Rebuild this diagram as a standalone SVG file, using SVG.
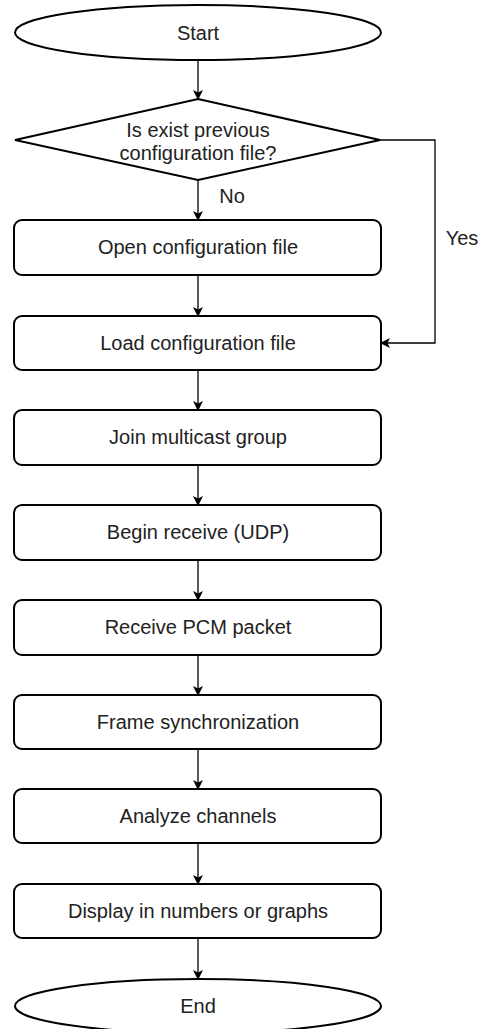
<svg xmlns="http://www.w3.org/2000/svg" width="486" height="1029" viewBox="0 0 486 1029">
<style>
.shape{fill:#fff;stroke:#000;stroke-width:2}
.lbl{font-family:"Liberation Sans",Arial,sans-serif;font-size:20px;fill:#222;text-anchor:middle}
.edge{fill:none;stroke:#000;stroke-width:1.3}
</style>
<defs>
<marker id="arr" markerWidth="10" markerHeight="10" refX="9" refY="5" orient="auto" markerUnits="userSpaceOnUse">
<path d="M0,0 L10,5 L0,10 L2.5,5 Z" fill="#000"/>
</marker>
</defs>
<rect width="486" height="1029" fill="#fff"/>
<g id="connectors">
<path class="edge" d="M198,60 V99" marker-end="url(#arr)"/>
<path class="edge" d="M198,180 V220" marker-end="url(#arr)"/>
<path class="edge" d="M198,275 V316" marker-end="url(#arr)"/>
<path class="edge" d="M380,140 H435 V343 H381" marker-end="url(#arr)"/>
<path class="edge" d="M198,370 V410" marker-end="url(#arr)"/>
<path class="edge" d="M198,465 V505" marker-end="url(#arr)"/>
<path class="edge" d="M198,560 V600" marker-end="url(#arr)"/>
<path class="edge" d="M198,655 V695" marker-end="url(#arr)"/>
<path class="edge" d="M198,749 V789" marker-end="url(#arr)"/>
<path class="edge" d="M198,843 V884" marker-end="url(#arr)"/>
<path class="edge" d="M198,938 V979" marker-end="url(#arr)"/>
<text class="lbl" x="232" y="203">No</text>
<text class="lbl" x="462" y="245">Yes</text>
</g>
<g id="start">
<ellipse class="shape" cx="198" cy="32.5" rx="183" ry="27.5"/>
<text class="lbl" x="198" y="40">Start</text>
</g>
<g id="decision">
<polygon class="shape" points="198,99 380,140 198,180 15,140"/>
<text class="lbl" x="198" y="137">Is exist previous</text>
<text class="lbl" x="198" y="160">configuration file?</text>
</g>
<g id="open">
<rect class="shape" x="14" y="220" width="367" height="55" rx="8"/>
<text class="lbl" x="198" y="254">Open configuration file</text>
</g>
<g id="load">
<rect class="shape" x="14" y="316" width="367" height="54" rx="8"/>
<text class="lbl" x="198" y="350">Load configuration file</text>
</g>
<g id="join">
<rect class="shape" x="14" y="410" width="367" height="55" rx="8"/>
<text class="lbl" x="198" y="444">Join multicast group</text>
</g>
<g id="begin">
<rect class="shape" x="14" y="505" width="367" height="55" rx="8"/>
<text class="lbl" x="198" y="539">Begin receive (UDP)</text>
</g>
<g id="receive">
<rect class="shape" x="14" y="600" width="367" height="55" rx="8"/>
<text class="lbl" x="198" y="634">Receive PCM packet</text>
</g>
<g id="frame">
<rect class="shape" x="14" y="695" width="367" height="54" rx="8"/>
<text class="lbl" x="198" y="729">Frame synchronization</text>
</g>
<g id="analyze">
<rect class="shape" x="14" y="789" width="367" height="54" rx="8"/>
<text class="lbl" x="198" y="823">Analyze channels</text>
</g>
<g id="display">
<rect class="shape" x="14" y="884" width="367" height="54" rx="8"/>
<text class="lbl" x="198" y="918">Display in numbers or graphs</text>
</g>
<g id="end">
<ellipse class="shape" cx="198" cy="1006" rx="183" ry="27"/>
<text class="lbl" x="198" y="1013">End</text>
</g>
</svg>
